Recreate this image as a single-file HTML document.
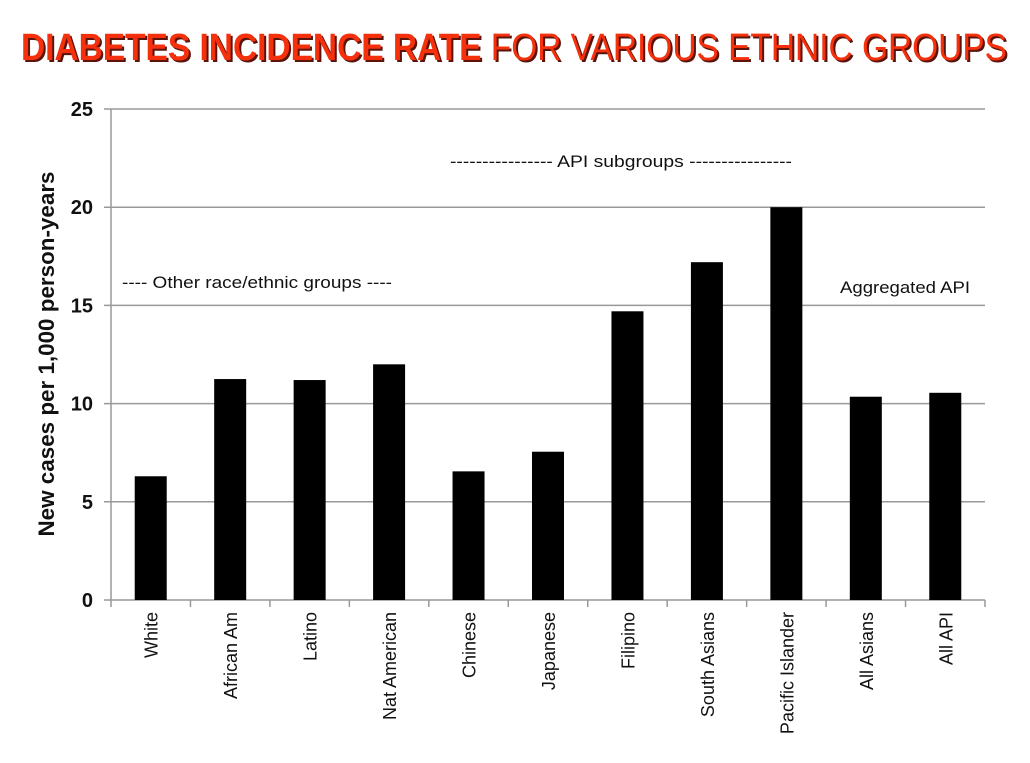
<!DOCTYPE html>
<html><head><meta charset="utf-8"><style>
body{margin:0;background:#fff;}
svg{display:block;font-family:"Liberation Sans",sans-serif;}
</style></head><body>
<svg id="chart" width="1030" height="763" viewBox="0 0 1030 763" xmlns="http://www.w3.org/2000/svg">
<rect width="1030" height="763" fill="#fff"/>
<g font-family="'Liberation Sans Narrow','Liberation Sans',sans-serif" font-size="38" font-weight="bold" text-anchor="middle">
<text x="516" y="62" fill="#5a140c" textLength="986" lengthAdjust="spacingAndGlyphs">DIABETES INCIDENCE RATE <tspan font-weight="normal">FOR VARIOUS ETHNIC GROUPS</tspan></text>
<text x="514" y="60" fill="#f5300c" textLength="986" lengthAdjust="spacingAndGlyphs">DIABETES INCIDENCE RATE <tspan font-weight="normal">FOR VARIOUS ETHNIC GROUPS</tspan></text>
</g>
<g id="grid"></g><g id="bars"></g><g id="axes"></g>
<text transform="translate(54,354) rotate(-90)" text-anchor="middle" font-size="22" font-weight="bold" fill="#111" textLength="365" lengthAdjust="spacingAndGlyphs">New cases per 1,000 person-years</text>
<text x="122" y="288" font-size="17" fill="#111" textLength="270" lengthAdjust="spacingAndGlyphs">---- Other race/ethnic groups ----</text>
<text x="450" y="167" font-size="17" fill="#111" textLength="342" lengthAdjust="spacingAndGlyphs">---------------- API subgroups ----------------</text>
<text x="840" y="293" font-size="17" fill="#111" textLength="130" lengthAdjust="spacingAndGlyphs">Aggregated API</text>
<script>
const categories=["White","African Am","Latino","Nat American","Chinese","Japanese","Filipino","South Asians","Pacific Islander","All Asians","All API"];
const values=[6.3,11.25,11.2,12.0,6.55,7.55,14.7,17.2,20.0,10.35,10.55];
const yTicks=[0,5,10,15,20,25];
const NS="http://www.w3.org/2000/svg";
const x0=111,x1=985,yb=600,yt=109,ymax=25;
const bw=(x1-x0)/categories.length;
const y=v=>yb-(v/ymax)*(yb-yt);
const xc=i=>x0+(i+0.5)*bw;
function mk(t,a,p){const e=document.createElementNS(NS,t);for(const k in a)e.setAttribute(k,a[k]);p.appendChild(e);return e;}
const grid=document.getElementById('grid'),bars=document.getElementById('bars'),axes=document.getElementById('axes');
yTicks.forEach(t=>{
 const l=mk('line',{x1:x0-7,x2:x1,y1:y(t),y2:y(t),stroke:'#999','stroke-width':1.5},grid);
 
 
 const tx=mk('text',{x:93,y:y(t)+7,'text-anchor':'end','font-size':20,'font-weight':'bold',fill:'#111'},axes);
 tx.textContent=t;
 
 
});
categories.forEach((c,i)=>{
 const r=mk('rect',{x:xc(i)-16,y:y(values[i]),width:32,height:yb-y(values[i]),fill:'#000'},bars);
 
 
 const tk=mk('line',{x1:x0+(i+1)*bw,x2:x0+(i+1)*bw,y1:yb,y2:yb+7,stroke:'#999','stroke-width':1.5},axes);
 
 
 const tx=mk('text',{transform:`translate(${xc(i)+7},612) rotate(-90)`,'text-anchor':'end','font-size':18,fill:'#111'},axes);
 tx.textContent=c;
 
 
});
const ax=mk('line',{x1:x0,x2:x0,y1:yt,y2:yb+7,stroke:'#999','stroke-width':1.5},axes);


</script>
</svg>
</body></html>
